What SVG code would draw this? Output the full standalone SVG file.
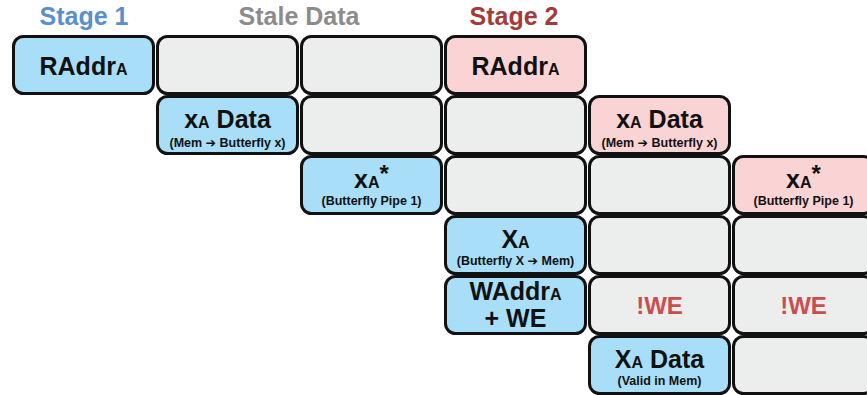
<svg xmlns="http://www.w3.org/2000/svg" width="867" height="395" viewBox="0 0 867 395">
<style>
.c{stroke:#111;stroke-width:3}
.b{fill:#A8DEF7}
.p{fill:#FAD4D4}
.g{fill:#ECEDED}
text{font-family:"Liberation Sans",Arial,sans-serif;font-weight:bold;text-anchor:middle;fill:#111}
.m{font-size:25px}
.s{font-size:12.5px}
.h{font-size:25px}
.we{font-size:24px;fill:#C94F4F}
.ar{font-family:"DejaVu Sans",sans-serif}
</style>
<rect width="867" height="395" fill="#fff"/>
<g id="headers">
<text class="h" x="84" y="25" style="fill:#5A8FCF">Stage 1</text>
<text class="h" x="299" y="25" style="fill:#8C8C8C">Stale Data</text>
<text class="h" x="514" y="25" style="fill:#A33B3B">Stage 2</text>
</g>
<g id="r0c0"><rect class="c b" x="13.5" y="36.5" width="140" height="57" rx="10"/><text class="m" x="83.5" y="75">RAddr<tspan font-size="16">A</tspan></text></g>
<g id="r0c1"><rect class="c g" x="157.5" y="36.5" width="140" height="57" rx="10"/></g>
<g id="r0c2"><rect class="c g" x="301.5" y="36.5" width="140" height="57" rx="10"/></g>
<g id="r0c3"><rect class="c p" x="445.5" y="36.5" width="140" height="57" rx="10"/><text class="m" x="515.5" y="75">RAddr<tspan font-size="16">A</tspan></text></g>

<g id="r1c1"><rect class="c b" x="157.5" y="96.5" width="140" height="57" rx="10"/><text class="m" x="227.5" y="128">x<tspan font-size="16">A</tspan> Data</text><text class="s" x="227.5" y="147">(Mem <tspan class="ar">➔</tspan> Butterfly x)</text></g>
<g id="r1c2"><rect class="c g" x="301.5" y="96.5" width="140" height="57" rx="10"/></g>
<g id="r1c3"><rect class="c g" x="445.5" y="96.5" width="140" height="57" rx="10"/></g>
<g id="r1c4"><rect class="c p" x="589.5" y="96.5" width="140" height="57" rx="10"/><text class="m" x="659.5" y="128">x<tspan font-size="16">A</tspan> Data</text><text class="s" x="659.5" y="147">(Mem <tspan class="ar">➔</tspan> Butterfly x)</text></g>

<g id="r2c2"><rect class="c b" x="301.5" y="156.5" width="140" height="57" rx="10"/><text class="m" x="371.5" y="188">x<tspan font-size="16">A</tspan><tspan font-size="24" dy="-6">*</tspan></text><text class="s" x="371.5" y="205">(Butterfly Pipe 1)</text></g>
<g id="r2c3"><rect class="c g" x="445.5" y="156.5" width="140" height="57" rx="10"/></g>
<g id="r2c4"><rect class="c g" x="589.5" y="156.5" width="140" height="57" rx="10"/></g>
<g id="r2c5"><rect class="c p" x="733.5" y="156.5" width="140" height="57" rx="10"/><text class="m" x="803.5" y="188">x<tspan font-size="16">A</tspan><tspan font-size="24" dy="-6">*</tspan></text><text class="s" x="803.5" y="205">(Butterfly Pipe 1)</text></g>

<g id="r3c3"><rect class="c b" x="445.5" y="216.5" width="140" height="57" rx="10"/><text class="m" x="515.5" y="248">X<tspan font-size="16">A</tspan></text><text class="s" x="515.5" y="265">(Butterfly X <tspan class="ar">➔</tspan> Mem)</text></g>
<g id="r3c4"><rect class="c g" x="589.5" y="216.5" width="140" height="57" rx="10"/></g>
<g id="r3c5"><rect class="c g" x="733.5" y="216.5" width="140" height="57" rx="10"/></g>

<g id="r4c3"><rect class="c b" x="445.5" y="276.5" width="140" height="57" rx="10"/><text class="m" x="515.5" y="300">WAddr<tspan font-size="16">A</tspan></text><text class="m" x="515.5" y="327">+ WE</text></g>
<g id="r4c4"><rect class="c g" x="589.5" y="276.5" width="140" height="57" rx="10"/><text class="we" x="659.5" y="314">!WE</text></g>
<g id="r4c5"><rect class="c g" x="733.5" y="276.5" width="140" height="57" rx="10"/><text class="we" x="803.5" y="314">!WE</text></g>

<g id="r5c4"><rect class="c b" x="589.5" y="336.5" width="140" height="57" rx="10"/><text class="m" x="659.5" y="368">X<tspan font-size="16">A</tspan> Data</text><text class="s" x="659.5" y="385">(Valid in Mem)</text></g>
<g id="r5c5"><rect class="c g" x="733.5" y="336.5" width="140" height="57" rx="10"/></g>
<g id="connectors"></g>
</svg>
